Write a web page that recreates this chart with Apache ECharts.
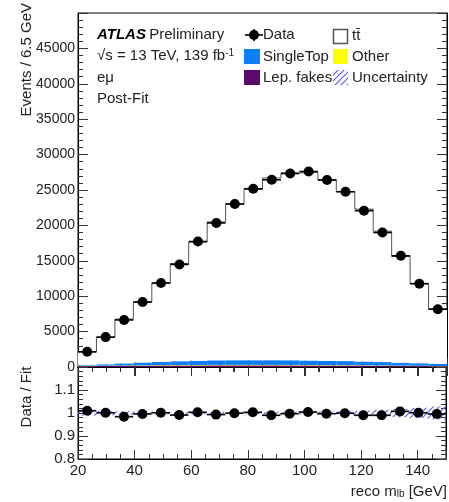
<!DOCTYPE html>
<html><head><meta charset="utf-8">
<script src="https://cdn.jsdelivr.net/npm/echarts@6/dist/echarts.min.js"></script>
<style>html,body{margin:0;padding:0;background:#fff}#c{width:449px;height:502px}</style>
</head><body><div id="c"></div>
<script>
// ---- data ----
const binEdges = [20,26.5,33,39.5,46,52.5,59,65.5,72,78.5,85,91.5,98,104.5,111,117.5,124,130.5,137,143.5,150];
const dataCounts = [2150,4220,6650,9170,11860,14490,17720,20350,23020,25180,26440,27330,27610,26400,24750,22080,18990,15710,11770,8160];
const ttbar = [1869,3831,6248,8572,11108,13797,16777,19553,22083,24135,25737,26457,26575,25599,23945,21538,18492,14986,11218,7728];
const singleTop = [100,200,300,400,480,550,600,640,660,670,670,660,640,610,570,520,470,420,370,320];
const other = [40,45,50,55,60,65,70,70,70,70,70,70,65,60,60,55,50,45,40,35];
const lepFakes = [120,140,160,180,200,210,220,230,230,230,230,225,220,210,200,190,170,150,130,110];
const ratio = [1.010,1.001,0.984,0.996,1.001,0.991,1.003,0.993,0.999,1.003,0.990,0.997,1.004,0.997,0.999,0.990,0.990,1.007,1.001,0.996];
const ratioUnc = [0.012,0.010,0.008,0.007,0.006,0.005,0.005,0.005,0.005,0.005,0.005,0.006,0.006,0.007,0.008,0.010,0.014,0.018,0.022,0.028];
const xTicks = [20,40,60,80,100,120,140];
const yMainTicks = [0,5000,10000,15000,20000,25000,30000,35000,40000,45000];
const yRatioTicks = [0.8,0.9,1,1.1];

const FONT = 'Liberation Sans, Arial, Helvetica, sans-serif';
const nBins = dataCounts.length;
const centers = dataCounts.map((_, i) => (binEdges[i] + binEdges[i+1]) / 2);

// stacked components, bottom to top
const comps = [
  {name:'Lep. fakes', vals: lepFakes, color:'#5a0a6a'},
  {name:'Other', vals: other, color:'#ffff00'},
  {name:'SingleTop', vals: singleTop, color:'#0d7ef9'},
  {name:'tt', vals: ttbar, color:'#ffffff'}
];
const cum = new Array(nBins).fill(0);
const stackSeries = comps.map(c => {
  const d = [];
  for (let i = 0; i < nBins; i++) {
    const lo = cum[i]; const hi = lo + c.vals[i];
    d.push([binEdges[i], binEdges[i+1], lo, hi]);
    cum[i] = hi;
  }
  return {
    type:'custom', name:c.name, xAxisIndex:0, yAxisIndex:0, clip:true,
    encode:{x:[0,1], y:[2,3]},
    data:d,
    renderItem:(p, api) => {
      const a = api.coord([api.value(0), api.value(2)]);
      const b = api.coord([api.value(1), api.value(3)]);
      return {type:'rect', shape:{x:a[0], y:b[1], width:b[0]-a[0], height:a[1]-b[1]}, style:{fill:c.color}};
    }
  };
});
const totalStep = cum.map((v, i) => [binEdges[i], v]);
totalStep.push([binEdges[nBins], cum[nBins-1]]);

function hatchCanvas(){
  const c = document.createElement('canvas'); c.width = 6; c.height = 6;
  const g = c.getContext('2d'); g.strokeStyle = '#5858ff'; g.lineWidth = 1.1;
  g.beginPath(); g.moveTo(0,6); g.lineTo(6,0); g.moveTo(-1,1); g.lineTo(1,-1); g.moveTo(5,7); g.lineTo(7,5); g.stroke();
  return c;
}
const hatch = hatchCanvas();

function hbars(vals, xi, yi){
  return {
    type:'custom', xAxisIndex:xi, yAxisIndex:yi, clip:true, z:5,
    encode:{x:[0,1], y:2},
    data: vals.map((v,i) => [binEdges[i], binEdges[i+1], v]),
    renderItem:(p, api) => {
      const a = api.coord([api.value(0), api.value(2)]);
      const b = api.coord([api.value(1), api.value(2)]);
      return {type:'line', shape:{x1:a[0], y1:a[1], x2:b[0], y2:b[1]}, style:{stroke:'#000', lineWidth:1.6}};
    }
  };
}

const axLine = {show:true, lineStyle:{color:'#000', width:1}};
function xAx(grid, pos, labels){
  return {type:'value', gridIndex:grid, position:pos, min:20, max:150, interval:20,
    axisLine:axLine, splitLine:{show:false},
    axisTick:{show:true, inside:true, length:9, lineStyle:{color:'#333'}},
    minorTick:{show:true, splitNumber:4, length:5, lineStyle:{color:'#333'}},
    axisLabel:{show:labels, margin:4, fontFamily:FONT, fontSize:15, color:'#222',
      formatter:v => xTicks.includes(v) ? String(v) : ''}};
}
function yAx(grid, pos, min, max, interval, split, labels, ticks, fs){
  return {type:'value', gridIndex:grid, position:pos, min:min, max:max, interval:interval,
    axisLine:axLine, splitLine:{show:false},
    axisTick:{show:true, inside:true, length:10, lineStyle:{color:'#333'}},
    minorTick:{show:true, splitNumber:split, length:5, lineStyle:{color:'#333'}},
    axisLabel:{show:labels, margin:3, fontFamily:FONT, fontSize:fs, color:'#222',
      formatter:v => { const r = Math.round(v*1000)/1000; return ticks.includes(r) ? String(r) : ''; }}};
}

const option = {
  animation:false,
  backgroundColor:'#fff',
  grid:[
    {left:78, right:2, top:13, height:354, show:true, borderColor:'#000', borderWidth:1, backgroundColor:'transparent'},
    {left:78, right:2, top:367, height:92, show:true, borderColor:'#000', borderWidth:1, backgroundColor:'transparent'}
  ],
  xAxis:[xAx(0,'bottom',false), xAx(0,'top',false), xAx(1,'bottom',true), xAx(1,'top',false)],
  yAxis:[
    yAx(0,'left',0,50000,5000,5,true,yMainTicks,14),
    yAx(0,'right',0,50000,5000,5,false,yMainTicks,14),
    yAx(1,'left',0.8,1.2,0.1,5,true,yRatioTicks,15),
    yAx(1,'right',0.8,1.2,0.1,5,false,yRatioTicks,15)
  ],
  series:[
    ...stackSeries,
    {type:'line', xAxisIndex:0, yAxisIndex:0, step:'end', data:totalStep, symbol:'none',
      lineStyle:{color:'#555', width:1}, z:4},
    hbars(dataCounts, 0, 0),
    {type:'scatter', xAxisIndex:0, yAxisIndex:0, data:centers.map((c,i)=>[c, dataCounts[i]]),
      symbol:'circle', symbolSize:10, itemStyle:{color:'#000', opacity:1}, z:6},
    {type:'custom', xAxisIndex:2, yAxisIndex:2, clip:true, encode:{x:[0,1], y:[2,3]},
      data: ratioUnc.map((u,i)=>[binEdges[i], binEdges[i+1], 1-u, 1+u]),
      renderItem:(p, api) => {
        const a = api.coord([api.value(0), api.value(2)]);
        const b = api.coord([api.value(1), api.value(3)]);
        return {type:'rect', shape:{x:a[0], y:b[1], width:b[0]-a[0], height:a[1]-b[1]}, style:{fill:{image:hatch, repeat:'repeat'}}};
      }},
    hbars(ratio, 2, 2),
    {type:'scatter', xAxisIndex:2, yAxisIndex:2, data:centers.map((c,i)=>[c, ratio[i]]),
      symbol:'circle', symbolSize:10, itemStyle:{color:'#000', opacity:1}, z:6}
  ],
  graphic:[
    // axis titles
    {type:'text', x:27, y:3, rotation:Math.PI/2,
      style:{text:'Events / 6.5 GeV', font:'15px '+FONT, fill:'#222', align:'right', verticalAlign:'middle'}},
    {type:'text', x:27, y:397, rotation:Math.PI/2,
      style:{text:'Data / Fit', font:'15px '+FONT, fill:'#222', align:'center', verticalAlign:'middle'}},
    {type:'text', x:447, y:490,
      style:{text:'{n|reco m}{s|lb}{n| [GeV]}', align:'right', verticalAlign:'middle', fill:'#222',
        rich:{n:{fontFamily:FONT, fontSize:15, fill:'#222', lineHeight:18, verticalAlign:'bottom'},
              s:{fontFamily:FONT, fontSize:10, fill:'#222', lineHeight:6, verticalAlign:'bottom'}}}},
    // ATLAS label
    {type:'text', x:97, y:35,
      style:{text:'{a|ATLAS} {b|Preliminary}', verticalAlign:'middle',
        rich:{a:{fontFamily:FONT, fontSize:15, fontWeight:'bold', fontStyle:'italic', fill:'#000'},
              b:{fontFamily:FONT, fontSize:15, fill:'#222'}}}},
    {type:'text', x:97, y:57,
      style:{text:'{n|\u221As = 13 TeV, 139 fb}{p|-1}', verticalAlign:'middle',
        rich:{n:{fontFamily:FONT, fontSize:15, fill:'#222', lineHeight:18, verticalAlign:'top'},
              p:{fontFamily:FONT, fontSize:10, fill:'#222', lineHeight:10, verticalAlign:'top'}}}},
    {type:'text', x:97, y:78, style:{text:'e\u03bc', font:'15px '+FONT, fill:'#222', verticalAlign:'middle'}},
    {type:'text', x:97, y:99, style:{text:'Post-Fit', font:'15px '+FONT, fill:'#222', verticalAlign:'middle'}},
    // legend
    {type:'line', shape:{x1:245, y1:35, x2:263, y2:35}, style:{stroke:'#000', lineWidth:1.6}},
    {type:'line', shape:{x1:254, y1:29, x2:254, y2:41}, style:{stroke:'#000', lineWidth:1.6}},
    {type:'circle', shape:{cx:254, cy:35, r:5}, style:{fill:'#000'}},
    {type:'text', x:263, y:35, style:{text:'Data', font:'15px '+FONT, fill:'#222', verticalAlign:'middle'}},
    {type:'rect', shape:{x:244, y:49, width:16, height:15}, style:{fill:'#0d7ef9'}},
    {type:'text', x:263, y:57, style:{text:'SingleTop', font:'15px '+FONT, fill:'#222', verticalAlign:'middle'}},
    {type:'rect', shape:{x:244, y:70, width:16, height:15}, style:{fill:'#5a0a6a'}},
    {type:'text', x:263, y:78, style:{text:'Lep. fakes', font:'15px '+FONT, fill:'#222', verticalAlign:'middle'}},
    {type:'rect', shape:{x:333.5, y:29.5, width:14, height:14}, style:{fill:'#fff', stroke:'#555', lineWidth:1.5}},
    {type:'text', x:352, y:36, style:{text:'tt\u0304', font:'15px '+FONT, fill:'#222', verticalAlign:'middle'}},
    {type:'rect', shape:{x:333, y:49, width:15, height:15}, style:{fill:'#ffff00'}},
    {type:'text', x:352, y:57, style:{text:'Other', font:'15px '+FONT, fill:'#222', verticalAlign:'middle'}},
    {type:'rect', shape:{x:333, y:70, width:15, height:15}, style:{fill:{image:hatch, repeat:'repeat'}}},
    {type:'text', x:352, y:78, style:{text:'Uncertainty', font:'15px '+FONT, fill:'#222', verticalAlign:'middle'}}
  ]
};
const chart = echarts.init(document.getElementById('c'), null, {renderer:'canvas'});
chart.setOption(option);
</script>
</body></html>
